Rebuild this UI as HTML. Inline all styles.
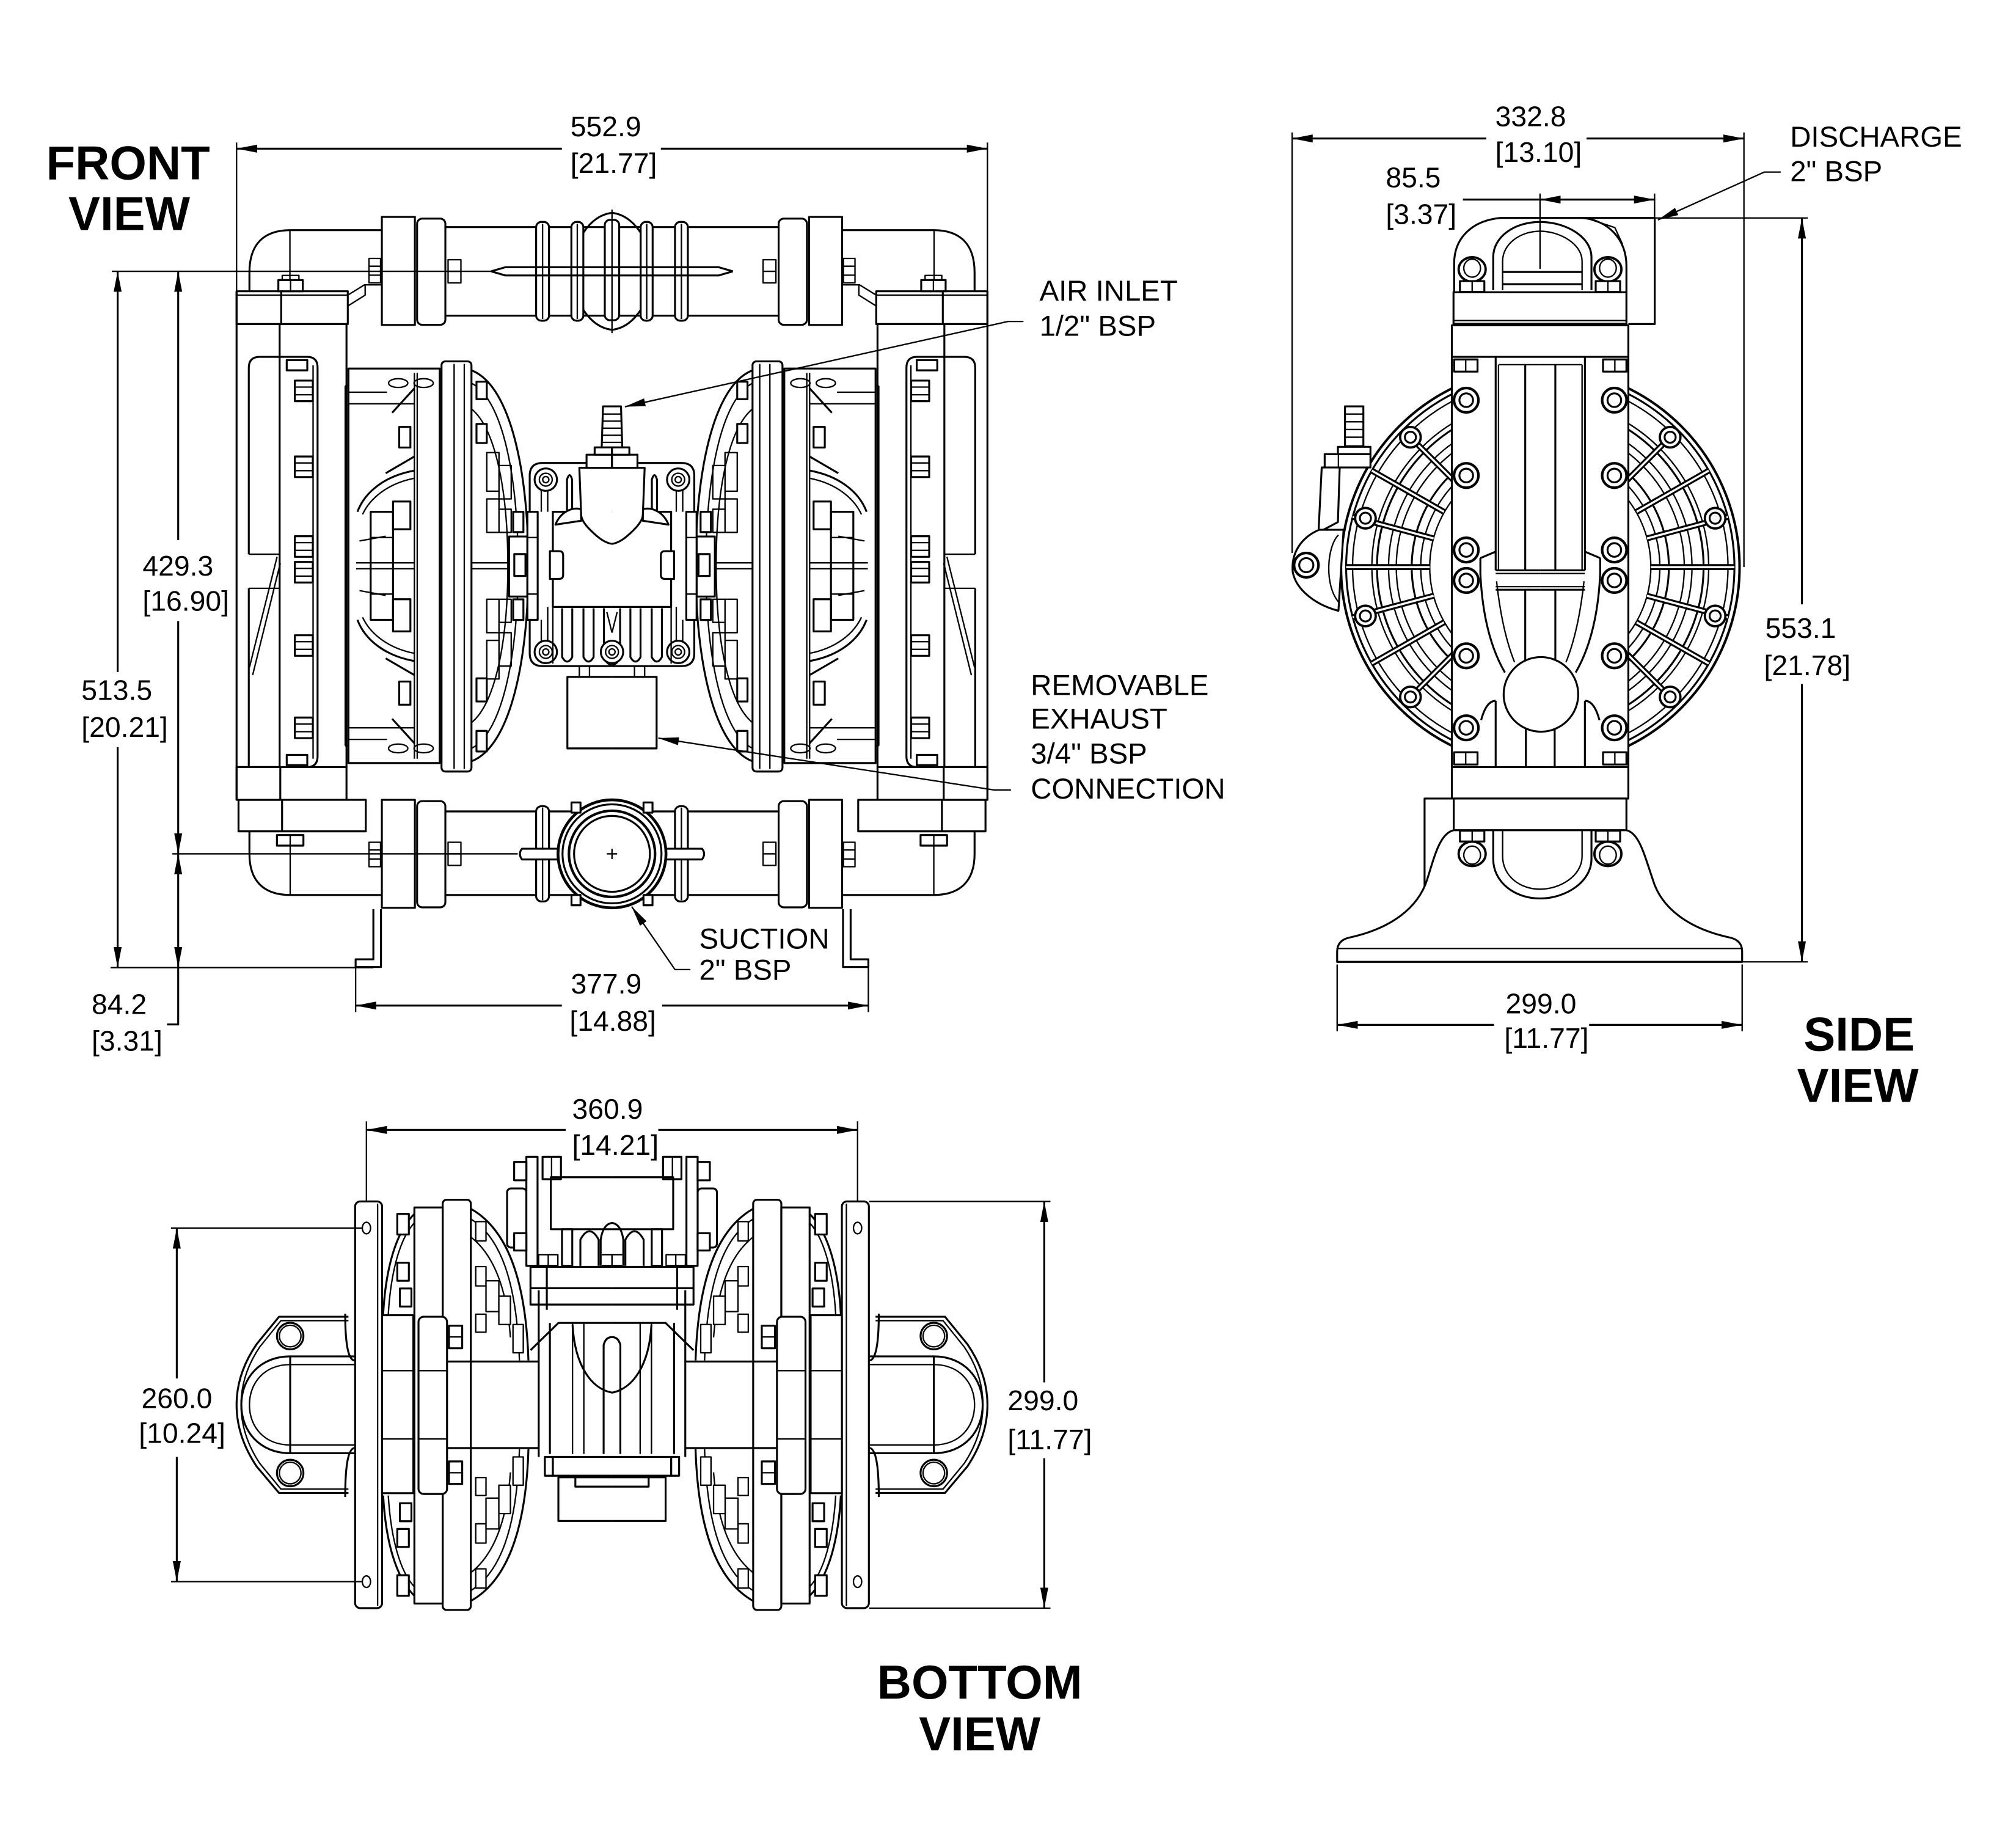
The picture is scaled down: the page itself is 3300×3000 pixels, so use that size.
<!DOCTYPE html>
<html><head><meta charset="utf-8"><style>
html,body{margin:0;padding:0;background:#fff;}
svg{display:block;}
text{font-family:"Liberation Sans",Arial,sans-serif;fill:#000;stroke:none;}
.d{font-size:22px;}
.l{font-size:22.5px;}
.b{font-size:37px;font-weight:bold;}
.t{stroke-width:1.1;}
</style></head><body>
<svg xmlns="http://www.w3.org/2000/svg" width="3300" height="3000" viewBox="0 0 1568 1425.45">
<defs>
<marker id="ar" viewBox="0 0 16 8" refX="16" refY="4" markerWidth="16" markerHeight="8" markerUnits="userSpaceOnUse" orient="auto-start-reverse"><path d="M0,0.9 L16,4 L0,7.1 z" fill="#000" stroke="none"/></marker>
</defs>
<rect width="1568" height="1425.45" fill="#fff"/>
<g fill="none" stroke="#000" stroke-width="1.5" stroke-linejoin="round">

<!-- ================= FRONT VIEW ================= -->
<g id="fl">
<!-- top elbow & collar -->
<path d="M194,226.5 L194,212 C194,190 205,179 226,179 L297,179"/>
<line class="t" x1="225.5" y1="179" x2="225.5" y2="217.8"/>
<rect x="184" y="226.5" width="86.5" height="25.5"/>
<line class="t" x1="184" y1="229.5" x2="270.5" y2="229.5"/>
<line x1="218.7" y1="226.5" x2="218.7" y2="252"/>
<path class="t" d="M270.5,229.5 L283.5,221.5 L297,221.5 M270.5,238 L284,229.5 L284,221.5"/>
<rect x="216.5" y="217.8" width="19" height="8.7" fill="#fff"/>
<line class="t" x1="226" y1="217.8" x2="226" y2="226.5"/>
<rect class="t" x="219.5" y="214.2" width="13" height="3.6"/>
<!-- top flanges -->
<rect x="297" y="168.7" width="25.7" height="84"/>
<rect x="324.4" y="170" width="22" height="82.6" rx="4"/>
<rect class="t" x="287" y="201" width="9" height="19"/>
<path class="t" d="M287,207 H296 M287,214 H296"/>
<rect class="t" x="348.5" y="202" width="10" height="18"/>
<path class="t" d="M348.5,211 H358.5"/>
<!-- top pipe -->
<path d="M346.4,176.6 H476 M346.4,245.5 H476"/>
<rect x="417" y="172.6" width="10" height="76.8" rx="4" fill="#fff"/>
<line class="t" x1="422" y1="174" x2="422" y2="248"/>
<rect x="444.4" y="172.6" width="9.3" height="76.8" rx="4" fill="#fff"/>
<line class="t" x1="449" y1="174" x2="449" y2="248"/>
<path d="M453.7,181 Q463,167 476,165.5 M453.7,241 Q463,255 476,256.5"/>
<path d="M382,211 L393,207.8 H476 M382,211 L393,214.2 H476"/>

<!-- frame post -->
<line x1="184" y1="226.5" x2="184" y2="622"/>
<line x1="269.5" y1="252" x2="269.5" y2="622"/>
<path d="M193.5,431 L193.5,286 Q193.5,277.5 202,277.5 L217.5,277.5"/>
<line x1="193.5" y1="457.5" x2="193.5" y2="596.5"/>
<path class="t" d="M193.5,431 H217.5 M193.5,457.5 H217.5"/>
<line x1="217.5" y1="252" x2="217.5" y2="596.5"/>
<path d="M217.5,277.5 L239,277.5 Q247,277.5 247,286 L247,588 Q247,596.5 239,596.5"/>
<line class="t" x1="243.5" y1="284" x2="243.5" y2="590"/>
<path class="t" d="M215.5,433 L194,519 M218,438 L196.5,525"/>
<line x1="184" y1="596.5" x2="270" y2="596.5"/>
<rect x="223" y="280" width="16" height="8" fill="#fff"/>
<rect x="223" y="587" width="16" height="8" fill="#fff"/>
<g fill="#fff">
<rect x="229.3" y="296" width="14" height="16"/>
<rect x="229.3" y="355" width="14" height="16"/>
<rect x="229.3" y="417" width="14" height="16"/>
<rect x="229.3" y="437" width="14" height="16"/>
<rect x="229.3" y="494" width="14" height="16"/>
<rect x="229.3" y="558" width="14" height="16"/>
</g>
<path class="t" d="M229.3,301 H243.3 M229.3,307 H243.3 M229.3,360 H243.3 M229.3,366 H243.3 M229.3,422 H243.3 M229.3,428 H243.3 M229.3,442 H243.3 M229.3,448 H243.3 M229.3,499 H243.3 M229.3,505 H243.3 M229.3,563 H243.3 M229.3,569 H243.3"/>

<!-- bottom collar & elbow -->
<rect x="184" y="596.5" width="34" height="25.5"/>
<rect x="185.5" y="622" width="99" height="24.5"/>
<line x1="219.4" y1="622" x2="219.4" y2="646.5"/>
<rect x="215.4" y="649.4" width="20.6" height="8.2"/>
<line class="t" x1="225.7" y1="649.4" x2="225.7" y2="657.6"/>
<path d="M194,646.5 L194,664 C194,685 205,696 226,696 L297,696"/>
<line class="t" x1="225.7" y1="657.6" x2="225.7" y2="696"/>
<rect x="297" y="622" width="25.7" height="84"/>
<rect x="324.4" y="623" width="22" height="82.6" rx="4"/>
<rect class="t" x="287" y="655" width="9" height="19" fill="#fff"/>
<path class="t" d="M287,661 H296 M287,668 H296"/>
<rect class="t" x="348.5" y="655" width="10" height="18"/>
<path class="t" d="M348.5,664 H358.5"/>
<path d="M346.4,631 H476 M346.4,696 H476"/>
<rect x="417" y="627" width="10" height="74" rx="4" fill="#fff"/>
<line class="t" x1="422" y1="628" x2="422" y2="700"/>
<path d="M440,660 L406,660 Q402.7,664 406,668.4 L440,668.4" fill="#fff"/>
<path d="M290.4,707 L290.4,746 L276.6,746 L276.6,752 L296.3,752 L296.3,707"/>

<!-- chamber cover -->
<rect x="271" y="286.6" width="71" height="306.8"/>
<path class="t" d="M268.5,300 V580 M271,300 H268.5 M271,580 H268.5"/>
<path class="t" d="M322.3,290 V590 M324.5,290 V590"/>
<ellipse class="t" cx="309.7" cy="297.9" rx="7.5" ry="3.4"/>
<ellipse class="t" cx="329.5" cy="297.9" rx="7.5" ry="3.4"/>
<ellipse class="t" cx="309.7" cy="582" rx="7.5" ry="3.4"/>
<ellipse class="t" cx="329.5" cy="582" rx="7.5" ry="3.4"/>
<path class="t" d="M271,305 H301 M271,314 H322.3 M271,566 H322.3 M271,575 H301"/>
<path d="M322.3,302 L305,321 M322.3,355 L300,368 M322.3,578 L305,559 M322.3,525 L300,512"/>
<path d="M322,366 C300,370 284,382 278,398 M322,514 C300,510 284,498 278,482"/>
<path class="t" d="M322,372 C302,376 288,387 282,400 M322,508 C302,504 288,493 282,480"/>
<rect x="288.3" y="398" width="17.4" height="84"/>
<rect x="305.7" y="390" width="13.5" height="21.6"/>
<rect x="305.7" y="466" width="13.5" height="25"/>
<path class="t" d="M277,437.7 H322 M277,442.3 H322 M279.6,420.7 L300,417 M279.6,459.3 L300,463 M288.3,418 H305.7 M288.3,462 H305.7"/>
<rect x="310.5" y="332" width="8.7" height="16"/>
<rect x="310.5" y="530" width="8.7" height="18"/>

<!-- clamp plate & dome -->
<rect x="343.4" y="281" width="23.3" height="319" rx="3" fill="#fff"/>
<path class="t" d="M353.2,283 V598 M361.1,283 V598"/>
<path d="M366.7,288 C398,300 411,370 411,440 C411,510 398,580 366.7,592"/>
<path class="t" d="M366.7,298 C392,311 403,375 403,440 C403,505 392,569 366.7,582"/>
<path class="t" d="M366.7,318 C385,333 395,380 395,440 C395,500 385,547 366.7,562"/>
<rect x="370.6" y="296.8" width="8" height="13.6" fill="#fff"/>
<rect x="370.6" y="329.7" width="8" height="14.8" fill="#fff"/>
<rect x="370.6" y="527.5" width="8" height="18" fill="#fff"/>
<rect x="370.6" y="568.4" width="8" height="16" fill="#fff"/>
<path class="t" d="M378.6,352 h9.5 v30 h-9.5 z M388.1,362 h9.5 v26 h-9.5 z M378.6,388 h9.5 v26 h-9.5 z M388.1,396 h9.5 v18 h-9.5 z M378.6,466 h9.5 v26 h-9.5 z M388.1,466 h9.5 v18 h-9.5 z M378.6,498 h9.5 v30 h-9.5 z M388.1,492 h9.5 v26 h-9.5 z"/>
<path class="t" d="M366.7,437.7 H398 M366.7,442.3 H398"/>

<!-- center block (half) -->
<path fill="#fff" d="M476,360 H422 Q412,360 412,370 V508 Q412,518 422,518 H476"/>
<rect x="399.1" y="398" width="8" height="15.8" fill="#fff"/>
<rect x="399.1" y="466.1" width="8" height="16" fill="#fff"/>
<rect x="396" y="417.2" width="14.2" height="46.7" fill="#fff"/>
<rect x="400" y="430.9" width="8.7" height="17"/>
<rect x="410.2" y="398" width="8" height="84" fill="#fff"/>
<path class="t" d="M410.2,418 H418.2 M410.2,462 H418.2"/>
<path class="t" d="M421,366 V398 M421,482 V512 M426,366 V398 M426,472 V512"/>
<path d="M476,398 H430 V472 H476"/>
<path fill="#fff" d="M427.7,428.6 H435 Q438,428.6 438,432 V447 Q438,450.2 435,450.2 H427.7 Z"/>
<circle cx="424.5" cy="373" r="8.7" fill="#fff"/><circle class="t" cx="424.5" cy="373" r="5"/><circle class="t" cx="424.5" cy="373" r="2.4"/>
<circle cx="424.5" cy="507" r="8.7" fill="#fff"/><circle class="t" cx="424.5" cy="507" r="5"/><circle class="t" cx="424.5" cy="507" r="2.4"/>
<path d="M441,402 V373 Q443,366 445,373 V402"/>
<path fill="#fff" d="M432,408 C436,398 445,394 452,396 L452,405 Z"/>
<path fill="#fff" d="M476,363.8 H450.6 L452,400 C452,404 455,408 459,412 C465,418 470,422 476,423"/>
<rect x="456.2" y="353.6" width="19.8" height="10.2" fill="#fff"/>
<rect x="462.5" y="347.9" width="13.5" height="5.7" fill="#fff"/>
<path d="M476,316 H469 L468,347.9"/>
<path class="t" d="M468.5,322 H476 M468.3,327.5 H476 M468.2,333 H476 M468.1,338.5 H476 M468,344 H476"/>
<path d="M437.2,473 V511 Q441.2,518 445.1,511 V473 M453.8,473 V511 Q457.7,518 461.7,511 V473 M469.7,473 V511 Q472,517 476,517"/>
<path class="t" d="M472,476 L476,492 M430,472 V516"/>
<path d="M476,526.4 H441.3 V582 H476"/>
<path class="t" d="M450.6,518 V526.4 M458.5,518 V526.4"/>
</g>
<use href="#fl" transform="matrix(-1,0,0,1,952,0)"/>

<!-- front center parts -->
<rect x="470.4" y="171" width="11.2" height="78" rx="4" fill="#fff"/>
<line class="t" x1="476" y1="163" x2="476" y2="259"/>
<path d="M470,207.8 H482 M470,214.2 H482"/>
<circle cx="476" cy="507" r="8.7" fill="#fff"/><circle class="t" cx="476" cy="507" r="5"/><circle class="t" cx="476" cy="507" r="2.4"/>
<circle cx="476" cy="664" r="42" fill="#fff" stroke-width="2.2"/>
<circle cx="476" cy="664" r="38.5"/>
<circle cx="476" cy="664" r="33.5" stroke-width="2"/>
<circle cx="476" cy="664" r="29.5"/>
<path class="t" d="M472,664 H480 M476,660 V668"/>
<rect x="444.5" y="624" width="7" height="8" fill="#fff"/>
<rect x="500.5" y="624" width="7" height="8" fill="#fff"/>
<rect x="444.5" y="696" width="7" height="8" fill="#fff"/>
<rect x="500.5" y="696" width="7" height="8" fill="#fff"/>

<!-- front dimensions -->
<path class="t" d="M184,110.8 V226.5 M768,110.8 V226.5"/>
<path d="M437,115.6 H184" marker-end="url(#ar)"/>
<path d="M514,115.6 H768" marker-end="url(#ar)"/>
<path class="t" d="M87,211 H382"/>
<path class="t" d="M86,752.5 H290.4"/>
<path class="t" d="M134,664 H402.7"/>
<path d="M91.5,522.6 V211" marker-end="url(#ar)"/>
<path d="M91.5,581 V752.5" marker-end="url(#ar)"/>
<path d="M138.6,420 V211" marker-end="url(#ar)"/>
<path d="M138.6,483 V664" marker-end="url(#ar)"/>
<path d="M138.6,664 V752.5" marker-start="url(#ar)" marker-end="url(#ar)"/>
<path d="M138.6,752.5 V796.7 H129.9"/>
<path class="t" d="M276.6,752 V787 M675.4,752 V787"/>
<path d="M437,782 H276.6" marker-end="url(#ar)"/>
<path d="M515,782 H675.4" marker-end="url(#ar)"/>
<!-- leaders -->
<path class="t" d="M796,250 H784 L486,316.3" marker-end="url(#ar)"/>
<path class="t" d="M786.3,614.3 H773 L512,574" marker-end="url(#ar)"/>
<path class="t" d="M537,754 H525 L491.3,705" marker-end="url(#ar)"/>

<!-- ================= SIDE VIEW ================= -->
<circle cx="1198" cy="441" r="155" stroke-width="1.9"/>
<circle cx="1198" cy="441" r="151"/>
<circle cx="1198" cy="441" r="146" class="t"/>
<circle cx="1198" cy="441" r="131" class="t"/>
<circle cx="1198" cy="441" r="127"/>
<circle cx="1198" cy="441" r="118" class="t"/>
<circle cx="1198" cy="441" r="112" class="t"/>
<circle cx="1198" cy="441" r="100"/>
<circle cx="1198" cy="441" r="93" class="t"/>
<circle cx="1198" cy="441" r="86" class="t"/>
<g id="ss">
<path stroke-width="4.6" d="M1112,441 L1047,441 M1115,418.7 L1052,401.9 M1115,463.3 L1052,480.1 M1123,398 L1067,366 M1123,484 L1067,516 M1137,380 L1091,334 M1137,502 L1091,548"/>
<path stroke="#fff" stroke-width="1.6" d="M1112,441 L1047,441 M1115,418.7 L1052,401.9 M1115,463.3 L1052,480.1 M1123,398 L1067,366 M1123,484 L1067,516 M1137,380 L1091,334 M1137,502 L1091,548"/>
<circle cx="1062" cy="403" r="8" fill="#fff" stroke-width="1.8"/><circle cx="1062" cy="403" r="4.3"/>
<circle cx="1062" cy="479" r="8" fill="#fff" stroke-width="1.8"/><circle cx="1062" cy="479" r="4.3"/>
<circle cx="1097" cy="340" r="8" fill="#fff" stroke-width="1.8"/><circle cx="1097" cy="340" r="4.3"/>
<circle cx="1097" cy="542" r="8" fill="#fff" stroke-width="1.8"/><circle cx="1097" cy="542" r="4.3"/>
</g>
<use href="#ss" transform="matrix(-1,0,0,1,2396,0)"/>

<!-- air inlet -->
<rect x="1046.1" y="316" width="14.3" height="31" fill="#fff"/>
<path class="t" d="M1046.1,322 H1060.4 M1046.1,328 H1060.4 M1046.1,334 H1060.4 M1046.1,340 H1060.4"/>
<rect x="1040.6" y="347.5" width="25.3" height="5.7" fill="#fff"/>
<rect x="1030.3" y="353.2" width="35.6" height="10.3" fill="#fff"/>
<line class="t" x1="1041" y1="353.2" x2="1041" y2="363.5"/>
<path fill="#fff" d="M1028,363.5 L1025.5,414 L1040.6,406 L1042,363.5 Z"/>
<path fill="#fff" d="M1026,412 C1012,418 1004,430 1005.5,445 C1008,458 1022,470 1041,475 L1045,412 Z"/>
<path class="t" d="M1041,416 C1032,425 1030,455 1041,468"/>
<circle cx="1016" cy="439.5" r="9.5" fill="#fff" stroke-width="2"/>
<circle cx="1016" cy="439.5" r="5.5"/>

<!-- body -->
<rect x="1129.2" y="253" width="137.3" height="368" fill="#fff"/>
<path d="M1129.2,277.5 H1266.5 M1129.2,596.5 H1266.5"/>
<g id="sb">
<path d="M1163.3,277.5 V443.5 M1163.3,545 V596.5"/>
<path class="t" d="M1165.5,283.6 V443.5 M1165.5,283.6 H1198"/>
<path d="M1186.3,283.6 V443.5 M1186.3,458.6 V515 M1186.8,565 V596.5"/>
<path d="M1163.3,443.5 H1198 M1163.3,458.6 H1198"/>
<path class="t" d="M1163.3,446 H1198 M1163.3,456.2 H1198"/>
<path d="M1151.4,434 L1163.3,429 M1151.4,434 V446 C1153,480 1160,505 1170.5,523"/>
<path class="t" d="M1164,452 C1167,480 1172,500 1178,515"/>
<path d="M1152,560 Q1156,545 1163.3,545"/>
<circle cx="1140.4" cy="311.2" r="9.5" fill="#fff" stroke-width="2"/><circle cx="1140.4" cy="311.2" r="5.3"/>
<circle cx="1140.4" cy="369.8" r="9.5" fill="#fff" stroke-width="2"/><circle cx="1140.4" cy="369.8" r="5.3"/>
<circle cx="1140.4" cy="427.7" r="9.5" fill="#fff" stroke-width="2"/><circle cx="1140.4" cy="427.7" r="5.3"/>
<circle cx="1140.4" cy="451.4" r="9.5" fill="#fff" stroke-width="2"/><circle cx="1140.4" cy="451.4" r="5.3"/>
<circle cx="1140.4" cy="510" r="9.5" fill="#fff" stroke-width="2"/><circle cx="1140.4" cy="510" r="5.3"/>
<circle cx="1140.4" cy="566" r="9.5" fill="#fff" stroke-width="2"/><circle cx="1140.4" cy="566" r="5.3"/>
<rect x="1131" y="279.5" width="18.2" height="9.5" fill="#fff"/>
<line class="t" x1="1140" y1="279.5" x2="1140" y2="289"/>
<rect x="1131" y="585" width="18.2" height="9.5" fill="#fff"/>
<line class="t" x1="1140" y1="585" x2="1140" y2="594.5"/>
</g>
<use href="#sb" transform="matrix(-1,0,0,1,2396,0)"/>
<circle cx="1198.5" cy="540" r="29" fill="#fff"/>

<!-- top dome -->
<path d="M1231,169.5 H1287 V252 H1266.5"/>
<path fill="#fff" d="M1131,227.3 L1131,205 C1131,184 1146,171.5 1167,169.5 L1231,169.5 C1251,171.5 1265,186 1265,207 L1265,227.3"/>
<path class="t" d="M1238,171 L1256,177 L1262,190"/>
<path d="M1161.4,225.7 L1161.4,200 C1161.4,184 1178,172.6 1197.8,172.6 C1217.6,172.6 1237.8,184 1237.8,200 L1237.8,225.7"/>
<path class="t" d="M1168.7,225.7 L1168.7,203 C1168.7,190 1182,179.8 1197.8,179.8 C1213.6,179.8 1230.5,190 1230.5,203 L1230.5,225.7"/>
<path d="M1168.7,211.5 H1230.5 M1168.7,221 H1230.5"/>
<rect x="1130.5" y="227.3" width="134.5" height="24.5" fill="#fff"/>
<line class="t" x1="1130.5" y1="249.3" x2="1265" y2="249.3"/>
<!-- bottom -->
<path d="M1129.2,621 H1108 V690"/>
<path fill="#fff" d="M1130.7,645.6 C1120,648 1116,665 1110,684 C1103,706 1082,722 1050,729 Q1040,731 1040,740 V748 H1355 V740 Q1355,731 1345,729 C1313,722 1292,706 1285.5,684 C1279,665 1275,648 1265,645.6 Z"/>
<path class="t" d="M1040,737.6 H1355"/>
<rect x="1130.7" y="621" width="134.3" height="24.6" fill="#fff"/>
<path d="M1161.4,645.6 L1161.4,668 C1161.4,686 1178,698.7 1197.8,698.7 C1217.6,698.7 1237.8,686 1237.8,668 L1237.8,645.6"/>
<path class="t" d="M1168.7,645.6 L1168.7,666 C1168.7,681 1182,691.5 1197.8,691.5 C1213.6,691.5 1230.5,681 1230.5,666 L1230.5,645.6"/>
<g id="sdh">
<ellipse cx="1145" cy="209.5" rx="10.5" ry="9.5" fill="#fff" stroke-width="1.8"/>
<ellipse class="t" cx="1145" cy="208.5" rx="6.5" ry="7"/>
<rect x="1135.5" y="218.6" width="19" height="8.4" fill="#fff"/>
<line class="t" x1="1145" y1="218.6" x2="1145" y2="227"/>
<ellipse cx="1145" cy="664" rx="10.5" ry="9.5" fill="#fff" stroke-width="1.8"/>
<ellipse class="t" cx="1145" cy="665" rx="6.5" ry="7"/>
<rect x="1135.5" y="646" width="19" height="8.4" fill="#fff"/>
<line class="t" x1="1145" y1="646" x2="1145" y2="654.4"/>
</g>
<use href="#sdh" transform="matrix(-1,0,0,1,2395.6,0)"/>

<!-- side dims -->
<path class="t" d="M1005,103 V430 M1356.4,103 V441"/>
<path d="M1156,107.7 H1005" marker-end="url(#ar)"/>
<path d="M1234,107.7 H1356.4" marker-end="url(#ar)"/>
<path d="M1137.8,155.2 H1197.8"/>
<path d="M1197.8,155.2 H1286.9" marker-start="url(#ar)" marker-end="url(#ar)"/>
<path class="t" d="M1197.8,150.5 V209 M1286.9,150.5 V169.5"/>
<path class="t" d="M1287,169.5 H1406 M1355,748 H1406"/>
<path d="M1401.5,470 V169.5" marker-end="url(#ar)"/>
<path d="M1401.5,532 V748" marker-end="url(#ar)"/>
<path class="t" d="M1040,750 V802 M1355,750 V802"/>
<path d="M1162,797 H1040" marker-end="url(#ar)"/>
<path d="M1236,797 H1355" marker-end="url(#ar)"/>
<path class="t" d="M1385,133.8 H1372.3 L1289.5,171" marker-end="url(#ar)"/>

<!-- ================= BOTTOM VIEW ================= -->
<g id="bh">
<g id="bq">
<path d="M298,1022 C300,986 308,958 322.3,944"/>
<path class="t" d="M302,1022 C304,989 311,963 322.3,951"/>
<rect x="309" y="944" width="9" height="16" fill="#fff"/>
<rect x="309" y="982" width="9" height="14" fill="#fff"/>
<rect x="311" y="1002" width="9" height="14" fill="#fff"/>
<path d="M366.2,940 C393,955 409,992 411,1058"/>
<path class="t" d="M366.2,948 C389,962 402,996 404,1058"/>
<path class="t" d="M366.2,962 C383,975 394,1000 397,1040"/>
<rect class="t" x="370" y="950" width="8" height="15" fill="#fff"/>
<rect class="t" x="370" y="985" width="8" height="15" fill="#fff"/>
<rect class="t" x="378" y="996" width="10" height="24" fill="#fff"/>
<rect class="t" x="388" y="1008" width="9" height="22" fill="#fff"/>
<rect class="t" x="370" y="1022" width="8" height="14" fill="#fff"/>
<rect class="t" x="399" y="1030" width="8" height="22" fill="#fff"/>
<rect x="349.2" y="1031" width="10.3" height="17.5" fill="#fff"/>
<line class="t" x1="349.2" y1="1039.7" x2="359.5" y2="1039.7"/>
</g>
<use href="#bq" transform="matrix(1,0,0,-1,0,2185)"/>
<!-- plates -->
<rect x="276.2" y="934.3" width="21" height="316.3" rx="4" fill="#fff"/>
<line class="t" x1="293.7" y1="936" x2="293.7" y2="1249"/>
<ellipse class="t" cx="285" cy="955" rx="3.2" ry="4.5"/>
<ellipse class="t" cx="285" cy="1230" rx="3.2" ry="4.5"/>
<rect x="322.3" y="939" width="22" height="308"/>
<rect x="344.3" y="933" width="21.9" height="319" rx="3"/>
<rect x="297.2" y="1022.8" width="24.3" height="138.4" fill="#fff"/>
<rect x="325.5" y="1024" width="22.2" height="137.8" rx="4" fill="#fff"/>
<path class="t" d="M297.2,1065.9 H321.5 M297.2,1119 H321.5 M325.5,1065.9 H347.7 M325.5,1119 H347.7"/>
<path d="M347.7,1058.8 H419 M347.7,1126.1 H419"/>
<!-- elbow port -->
<path d="M271,1024 H217 L199.6,1045.3 Q184,1068 184,1092.5 Q184,1117 199.6,1140.4 L217,1161 H271"/>
<path class="t" d="M271,1027 H218.5 L202,1047.5 Q187.5,1069 187.5,1092.5 Q187.5,1116 202,1138 L218.5,1158 H271"/>
<path d="M275.6,1054.8 H225.7 C202,1054.8 187.7,1072 187.7,1092.5 C187.7,1113 202,1130.1 225.7,1130.1 H275.6"/>
<path class="t" d="M275.6,1061.2 H225.7 C206,1061.2 194,1075 194,1092.5 C194,1110 206,1123.7 225.7,1123.7 H275.6"/>
<line x1="225.7" y1="1054.8" x2="225.7" y2="1130.1"/>
<circle cx="225.7" cy="1039" r="10.3"/><circle class="t" cx="225.7" cy="1039" r="8.4"/>
<circle cx="225.7" cy="1145.5" r="10.3"/><circle class="t" cx="225.7" cy="1145.5" r="8.4"/>
<path d="M268.5,1021.6 Q268.5,1058 276,1058 M268.5,1164.1 Q268.5,1126 276,1126"/>
<!-- center top structure -->
<rect x="394.4" y="924.2" width="15" height="46" rx="3" fill="#fff"/>
<rect x="409.4" y="899.6" width="8.7" height="84.8" fill="#fff"/>
<rect x="399.9" y="903.6" width="9.5" height="14.3" fill="#fff"/>
<rect x="399.9" y="959" width="9.5" height="13.5" fill="#fff"/>
<rect x="422" y="899.6" width="14.3" height="17.4" fill="#fff"/>
<line class="t" x1="429" y1="899.6" x2="429" y2="917"/>
<path d="M476,915.5 H428.4 V955.9 H476"/>
<rect x="437.1" y="955.9" width="8" height="28.5"/>
<path d="M451.4,984.4 V964 Q458.5,951 465.6,964 V984.4"/>
<path d="M467.2,984.4 V964 Q469,952 476,951"/>
<path class="t" d="M418.9,975.7 h15 v8.5 h-15 z M468,975.7 h8 v8.5 h-8 M426.4,975.7 V984.2"/>
<path d="M476,985.2 H412.6 V1014.5 H476 M412.6,1001.8 H476"/>
<line x1="425.3" y1="985.2" x2="425.3" y2="1018.6"/>
<path d="M419,1003.4 V1133 M427.7,1028.8 V1130.7"/>
<path class="t" d="M445.3,1028.8 V1130.7 M454.1,1028.8 V1130.7"/>
<path d="M412.6,1050 L434.3,1028.8 H476"/>
<path d="M445.3,1030 C447,1062 460,1080 476,1083"/>
<path d="M469.5,1130.7 V1046 Q471,1039.8 476,1039.8"/>
<path d="M476,1133 H430 V1147.6 H476"/>
<rect x="423.8" y="1133" width="6.2" height="14.6"/>
<path d="M476,1148.8 H434.3 V1182.8 H476 M447.5,1148.8 V1156.1 H476"/>
</g>
<use href="#bh" transform="matrix(-1,0,0,1,952,0)"/>

<!-- bottom dims -->
<path class="t" d="M285,872 V934 M667,872 V934"/>
<path d="M440,878.7 H285" marker-end="url(#ar)"/>
<path d="M512,878.7 H667" marker-end="url(#ar)"/>
<path class="t" d="M133,955 H282 M133,1230 H282"/>
<path d="M137.5,1072 V955" marker-end="url(#ar)"/>
<path d="M137.5,1133 V1230" marker-end="url(#ar)"/>
<path class="t" d="M676,934.3 H817 M676,1250.6 H817"/>
<path d="M812.2,1075 V934.3" marker-end="url(#ar)"/>
<path d="M812.2,1134 V1250.6" marker-end="url(#ar)"/>
</g>

<!-- ================= TEXT ================= -->
<text class="b" x="99.6" y="139.4" text-anchor="middle">FRONT</text>
<text class="b" x="100.5" y="179" text-anchor="middle">VIEW</text>
<text class="b" x="1446" y="817" text-anchor="middle">SIDE</text>
<text class="b" x="1445" y="857" text-anchor="middle">VIEW</text>
<text class="b" x="762" y="1321" text-anchor="middle">BOTTOM</text>
<text class="b" x="762" y="1361" text-anchor="middle">VIEW</text>

<text class="d" x="443.7" y="106">552.9</text>
<text class="d" x="443.7" y="134.5">[21.77]</text>
<text class="d" x="110.9" y="447.5">429.3</text>
<text class="d" x="110.9" y="474.8">[16.90]</text>
<text class="d" x="63.3" y="544.4">513.5</text>
<text class="d" x="63.3" y="573">[20.21]</text>
<text class="d" x="71.3" y="788.5">84.2</text>
<text class="d" x="71.3" y="817">[3.31]</text>
<text class="d" x="444" y="772.5">377.9</text>
<text class="d" x="443" y="801.5">[14.88]</text>

<text class="d" x="1163" y="98.2">332.8</text>
<text class="d" x="1163" y="126">[13.10]</text>
<text class="d" x="1077.8" y="145.7">85.5</text>
<text class="d" x="1077.8" y="174.2">[3.37]</text>
<text class="d" x="1373" y="496">553.1</text>
<text class="d" x="1372" y="525">[21.78]</text>
<text class="d" x="1171" y="788">299.0</text>
<text class="d" x="1170" y="815">[11.77]</text>

<text class="d" x="445" y="870">360.9</text>
<text class="d" x="445" y="898">[14.21]</text>
<text class="d" x="110" y="1095">260.0</text>
<text class="d" x="108" y="1122">[10.24]</text>
<text class="d" x="783.7" y="1096.7">299.0</text>
<text class="d" x="783.7" y="1127">[11.77]</text>

<text class="l" x="808.5" y="233.7">AIR INLET</text>
<text class="l" x="808.5" y="261">1/2" BSP</text>
<text class="l" x="801.7" y="540.6">REMOVABLE</text>
<text class="l" x="801.7" y="566.5">EXHAUST</text>
<text class="l" x="801.7" y="593.8">3/4" BSP</text>
<text class="l" x="801.7" y="621">CONNECTION</text>
<text class="l" x="543.8" y="737.6">SUCTION</text>
<text class="l" x="543.8" y="762">2" BSP</text>
<text class="l" x="1392.3" y="114">DISCHARGE</text>
<text class="l" x="1392.3" y="141">2" BSP</text>
</svg>
</body></html>
